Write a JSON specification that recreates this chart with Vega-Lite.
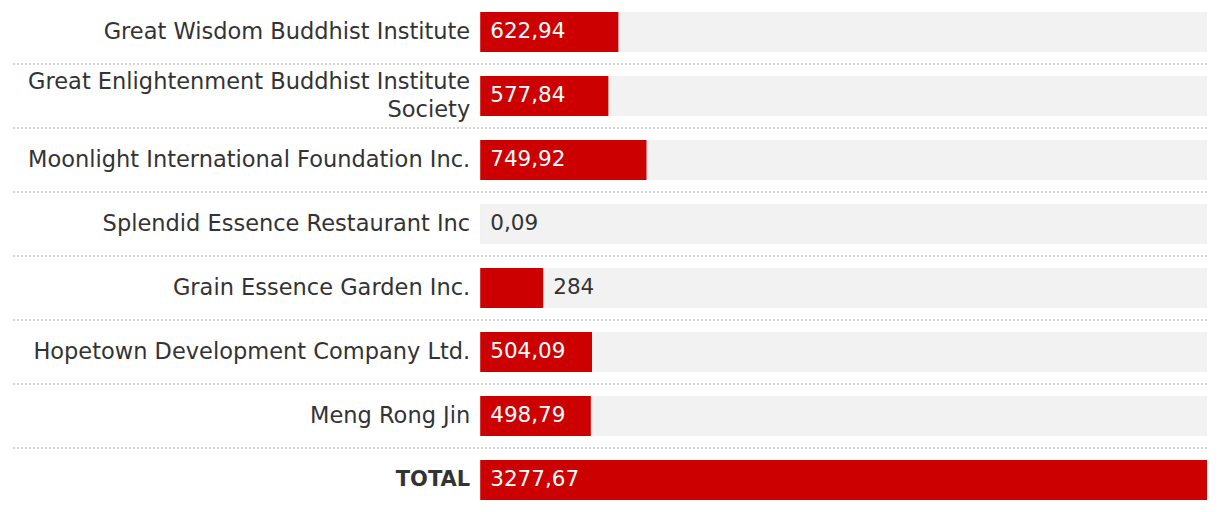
{
  "$schema": "https://vega.github.io/schema/vega-lite/v6.json",
  "width": 1220,
  "height": 512,
  "autosize": {"type": "fit", "contains": "padding"},
  "padding": {"left": 10, "right": 12, "top": 0, "bottom": 0},
  "background": "white",
  "config": {
    "view": {"stroke": null},
    "font": "DejaVu Sans",
    "locale": {"number": {"decimal": ",", "thousands": ".", "grouping": [3], "currency": ["", ""]}}
  },
  "data": {
    "values": [
      {"name": "Great Wisdom Buddhist Institute", "value": 622.94},
      {"name": "Great Enlightenment Buddhist Institute\nSociety", "value": 577.84},
      {"name": "Moonlight International Foundation Inc.", "value": 749.92},
      {"name": "Splendid Essence Restaurant Inc", "value": 0.09},
      {"name": "Grain Essence Garden Inc.", "value": 284},
      {"name": "Hopetown Development Company Ltd.", "value": 504.09},
      {"name": "Meng Rong Jin", "value": 498.79},
      {"name": "TOTAL", "value": 3277.67}
    ]
  },
  "transform": [{"joinaggregate": [{"op": "max", "field": "value", "as": "maxv"}]}],
  "encoding": {
    "y": {
      "field": "name",
      "type": "nominal",
      "sort": null,
      "scale": {"paddingInner": 0.375, "paddingOuter": 0.1875},
      "axis": null
    }
  },
  "layer": [
    {
      "mark": {"type": "bar", "color": "#f2f2f2", "cornerRadius": 0},
      "encoding": {
        "x": {"field": "maxv", "type": "quantitative", "scale": {"domain": [-2116.16, 3277.67], "nice": false, "zero": false}, "axis": null},
        "x2": {"datum": 0}
      }
    },
    {
      "mark": {"type": "bar", "color": "#cc0000"},
      "encoding": {
        "x": {"field": "value", "type": "quantitative"},
        "x2": {"datum": 0}
      }
    },
    {
      "transform": [{"filter": "datum.name !== 'TOTAL'"}],
      "mark": {"type": "rule", "color": "#d4d4d4", "strokeWidth": 2, "strokeDash": [2, 2]},
      "encoding": {
        "y": {"field": "name", "type": "nominal", "sort": null, "bandPosition": 1.3}
      }
    },
    {
      "transform": [{"filter": "datum.name !== 'TOTAL' && indexof(datum.name, 'Society') < 0"}],
      "mark": {"type": "text", "align": "right", "baseline": "middle", "dx": -10, "fontSize": 22.5, "color": "#333333"},
      "encoding": {
        "x": {"datum": 0, "type": "quantitative"},
        "text": {"field": "name"}
      }
    },
    {
      "transform": [{"filter": "indexof(datum.name, 'Society') >= 0"}],
      "mark": {"type": "text", "align": "right", "baseline": "middle", "dx": -10, "dy": -14, "fontSize": 22.5, "color": "#333333", "lineBreak": "\n", "lineHeight": 28},
      "encoding": {
        "x": {"datum": 0, "type": "quantitative"},
        "text": {"field": "name"}
      }
    },
    {
      "transform": [{"filter": "datum.name === 'TOTAL'"}],
      "mark": {"type": "text", "align": "right", "baseline": "middle", "dx": -10, "fontSize": 21, "fontWeight": "bold", "color": "#333333"},
      "encoding": {
        "x": {"datum": 0, "type": "quantitative"},
        "text": {"field": "name"}
      }
    },
    {
      "transform": [{"filter": "datum.value >= 400"}],
      "mark": {"type": "text", "align": "left", "baseline": "middle", "dx": 10, "fontSize": 21.5, "color": "white"},
      "encoding": {
        "x": {"datum": 0, "type": "quantitative"},
        "text": {"field": "value", "type": "quantitative", "format": ".2~f"}
      }
    },
    {
      "transform": [{"filter": "datum.value < 400"}],
      "mark": {"type": "text", "align": "left", "baseline": "middle", "dx": 10, "fontSize": 21.5, "color": "#333333"},
      "encoding": {
        "x": {"field": "value", "type": "quantitative"},
        "text": {"field": "value", "type": "quantitative", "format": ".2~f"}
      }
    }
  ]
}
